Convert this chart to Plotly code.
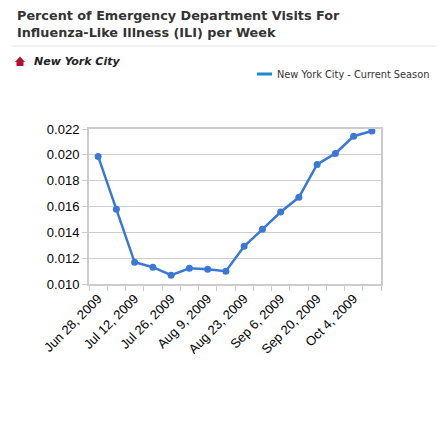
import plotly.graph_objects as go

# weekly ILI share of ED visits, New York City, current season
weeks = ["2009-06-28", "2009-07-05", "2009-07-12", "2009-07-19", "2009-07-26",
         "2009-08-02", "2009-08-09", "2009-08-16", "2009-08-23", "2009-08-30",
         "2009-09-06", "2009-09-13", "2009-09-20", "2009-09-27", "2009-10-04",
         "2009-10-11"]
ili_pct = [0.01988, 0.01578, 0.01168, 0.01130, 0.01068, 0.01122, 0.01114, 0.01099,
           0.01292, 0.01423, 0.01557, 0.01671, 0.01926, 0.02011, 0.02144, 0.02185]

title_lines = ["Percent of Emergency Department Visits For",
               "Influenza-Like Illness (ILI) per Week"]
region_name = "New York City"
series_name = "New York City - Current Season"

# the page body has an 8px margin, so work in window pixels and shift back
OFF = 8
W, H = 445 - OFF, 436 - OFF
L, R, T, B = 89 - OFF, 64, 129 - OFF, 152
pw, ph = W - L - R, H - T - B


def px(x, y):
    # window pixel position -> paper coords
    return (x - OFF - L) / pw, (H - B - (y - OFF)) / ph


fig = go.Figure()

fig.add_trace(go.Scatter(
    x=weeks, y=ili_pct,
    mode="lines+markers",
    line=dict(color="#3b78d6", width=2.5),
    marker=dict(color="#3b78d6", size=7),
    showlegend=False,
    hovertemplate="%{x|%b %-d, %Y}: %{y:.4f}<extra></extra>",
))

shapes = []
# separator under the title
x0, y0 = px(11, 46)
x1, _ = px(438, 46)
shapes.append(dict(type="line", xref="paper", yref="paper", x0=x0, y0=y0, x1=x1, y1=y0,
                   line=dict(color="#e6e6e6", width=1)))
# little red house icon
pts = [px(15, 62), px(20, 56.5), px(25, 62), px(23.5, 62), px(23.5, 66), px(16.5, 66), px(16.5, 62)]
path = "M " + " L ".join(f"{a},{b}" for a, b in pts) + " Z"
shapes.append(dict(type="path", xref="paper", yref="paper", path=path,
                   fillcolor="#b3122e", line=dict(width=0)))
# legend swatch
sx0, sy0 = px(257, 75.5)
sx1, sy1 = px(272, 72.5)
shapes.append(dict(type="rect", xref="paper", yref="paper", x0=sx0, y0=sy0, x1=sx1, y1=sy1,
                   fillcolor="#1b8bd3", line=dict(width=0)))

annotations = []
tx, ty = px(15, 6)
annotations.append(dict(text="<br>".join(title_lines), xref="paper", yref="paper",
                        x=tx, y=ty, xanchor="left", yanchor="top", align="left",
                        showarrow=False,
                        font=dict(family="DejaVu Sans", size=12.8, color="#333333", weight="bold")))
rx, ry = px(32, 62)
annotations.append(dict(text="<b><i>" + region_name + "</i></b>", xref="paper", yref="paper",
                        x=rx, y=ry, xanchor="left", yanchor="middle", showarrow=False,
                        font=dict(family="DejaVu Sans", size=11, color="#222222")))
lx, ly = px(275, 74)
annotations.append(dict(text=series_name, xref="paper", yref="paper",
                        x=lx, y=ly, xanchor="left", yanchor="middle", showarrow=False,
                        font=dict(family="DejaVu Sans", size=9.8, color="#333333")))

fig.update_layout(
    width=W, height=H,
    margin=dict(l=L, r=R, t=T, b=B),
    paper_bgcolor="white", plot_bgcolor="white",
    font=dict(family="Liberation Sans, Arial", color="#000000"),
    shapes=shapes,
    annotations=annotations,
    xaxis=dict(
        type="date",
        range=["2009-06-24 12:00", "2009-10-14 12:00"],
        tick0="2009-06-28", dtick=14 * 86400000,
        tickformat="%b %-d, %Y", tickangle=-45,
        tickfont=dict(size=13),
        ticks="outside", ticklen=0,
        showgrid=False,
        showline=True, linecolor="#cccccc", linewidth=2, mirror=True,
        minor=dict(tick0="2009-06-24 12:00", dtick=7 * 86400000,
                   ticks="outside", ticklen=5, tickcolor="#cccccc", showgrid=False),
    ),
    yaxis=dict(
        range=[0.010, 0.022], dtick=0.002, tickformat=".3f",
        tickfont=dict(size=13),
        ticks="outside", ticklen=5, tickcolor="#cccccc",
        showgrid=True, gridcolor="#cccccc", gridwidth=1,
        showline=True, linecolor="#cccccc", linewidth=2, mirror=True,
        zeroline=False,
    ),
)

fig.write_html("out.html")
